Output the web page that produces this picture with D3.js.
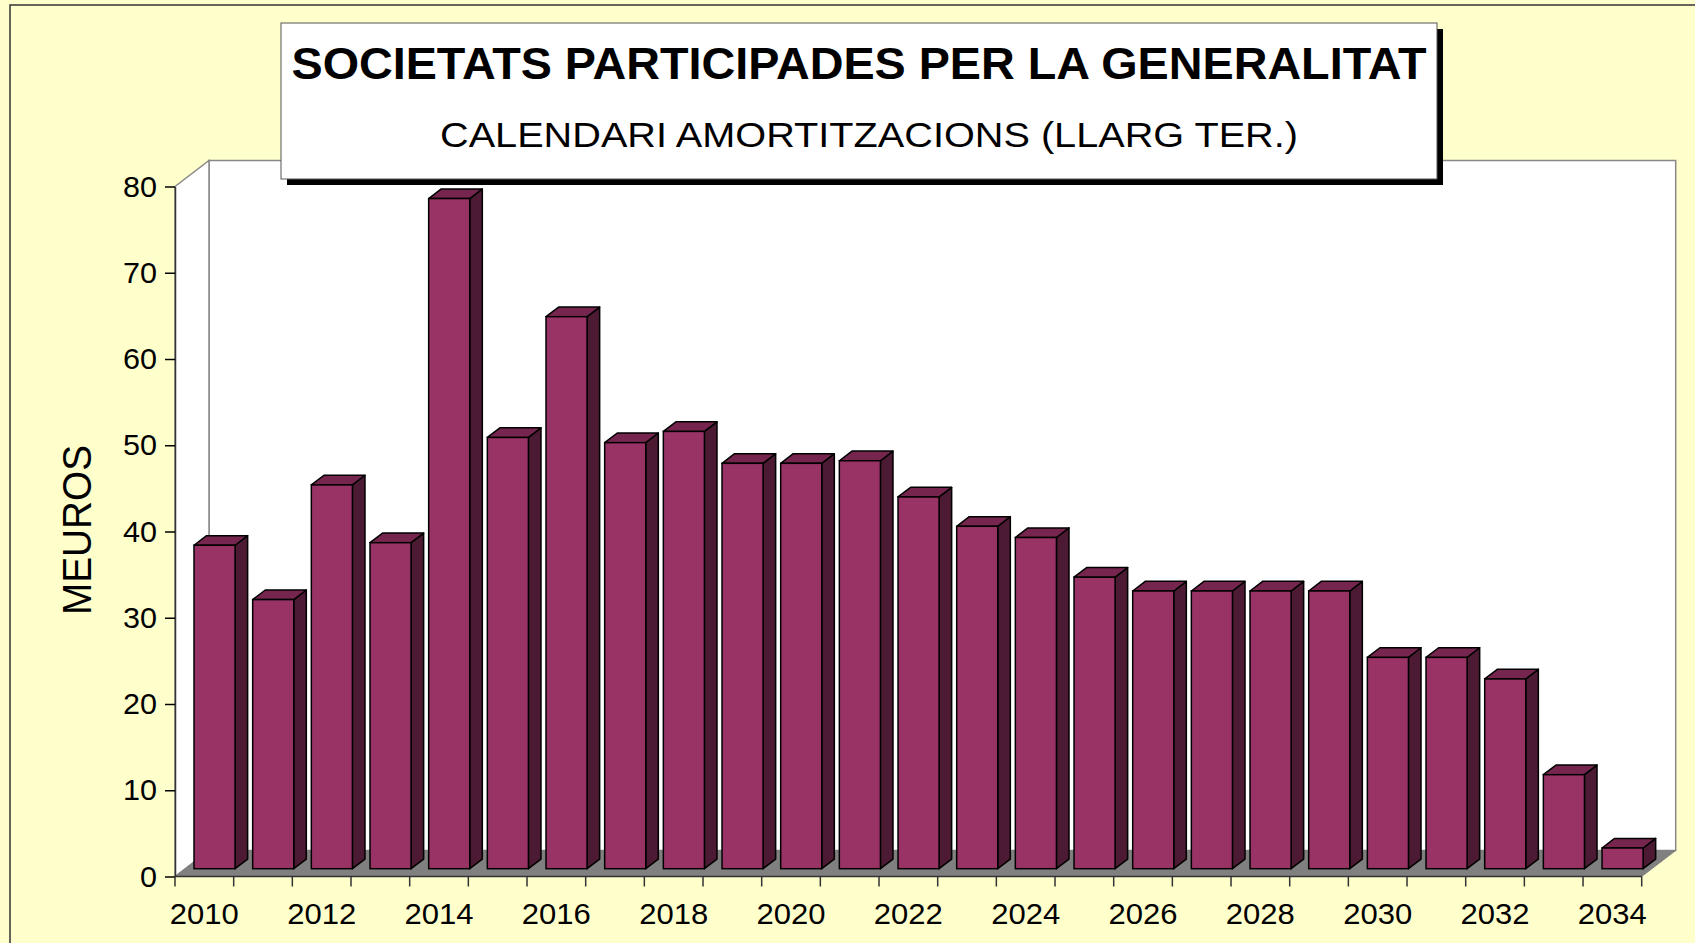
<!DOCTYPE html>
<meta charset="utf-8">
<script src="https://cdn.jsdelivr.net/npm/d3@7/dist/d3.min.js"></script>
<style>
body { margin: 0; background: #ffffcc; }
text { font-family: Arial, "Liberation Sans", sans-serif; fill: #000; }
</style>
<body>
<script>

// data (MEUROS)
var years = [2010, 2011, 2012, 2013, 2014, 2015, 2016, 2017, 2018, 2019, 2020, 2021,
             2022, 2023, 2024, 2025, 2026, 2027, 2028, 2029, 2030, 2031, 2032, 2033, 2034];
var values = [37.5, 31.2, 44.5, 37.8, 77.7, 50.0, 64.0, 49.4, 50.7, 47.0, 47.0, 47.3,
              43.1, 39.7, 38.4, 33.8, 32.2, 32.2, 32.2, 32.2, 24.5, 24.5, 22.0, 10.9, 2.4];
var yTicks = [0, 10, 20, 30, 40, 50, 60, 70, 80];
var title = "SOCIETATS PARTICIPADES PER LA GENERALITAT";
var subtitle = "CALENDARI AMORTITZACIONS (LLARG TER.)";
var yLabel = "MEUROS";

var width = 1695, height = 943;

// plot frame (front plane) and depth of the 3d box
var plotLeft = 175, plotRight = 1641.7, plotTop = 186.5, plotBase = 876.5;
var depthX = 34, depthY = 26;
var f1 = 0.3, f2 = 0.67;   // bar front / back as fraction of the depth

var svg = d3.select("body").append("svg")
    .attr("width", width)
    .attr("height", height);

svg.append("rect")
    .attr("width", width).attr("height", height)
    .attr("fill", "#ffffcc");

// outer chart border
svg.append("rect")
    .attr("x", 10).attr("y", 5)
    .attr("width", width).attr("height", height)
    .attr("fill", "none")
    .attr("stroke", "#333")
    .attr("stroke-width", 1.5);

var x = d3.scaleBand().domain(years).range([plotLeft, plotRight]).paddingInner(0).paddingOuter(0);
var y = d3.scaleLinear().domain([0, 80]).range([plotBase, plotTop]);

// walls
svg.append("rect")
    .attr("x", plotLeft + depthX).attr("y", plotTop - depthY)
    .attr("width", plotRight - plotLeft).attr("height", plotBase - plotTop)
    .attr("fill", "#fff")
    .attr("stroke", "#888")
    .attr("stroke-width", 1.5);

svg.append("polygon")
    .attr("points", [[plotLeft, plotTop], [plotLeft + depthX, plotTop - depthY],
                     [plotLeft + depthX, plotBase - depthY], [plotLeft, plotBase]].join(" "))
    .attr("fill", "#fff")
    .attr("stroke", "#888")
    .attr("stroke-width", 1.5);

// floor
svg.append("polygon")
    .attr("points", [[plotLeft, plotBase], [plotRight, plotBase],
                     [plotRight + depthX, plotBase - depthY], [plotLeft + depthX, plotBase - depthY]].join(" "))
    .attr("fill", "#808080")
    .attr("stroke", "#808080");

// axes
var yAxis = svg.append("g")
    .attr("transform", "translate(" + plotLeft + ",0)")
    .call(d3.axisLeft(y).tickValues(yTicks).tickSize(10).tickPadding(8).tickSizeOuter(0));
yAxis.select(".domain").attr("stroke", "#333").attr("stroke-width", 1.5);
yAxis.selectAll(".tick line").attr("stroke", "#000").attr("stroke-width", 1.5);
yAxis.selectAll("text").style("font-size", "30px").attr("fill", "#000")
    .attr("textLength", function(d) { return d < 10 ? 17 : 34; })
    .attr("lengthAdjust", "spacingAndGlyphs");

var xAxis = svg.append("g")
    .attr("transform", "translate(0," + plotBase + ")")
    .call(d3.axisBottom(x).tickValues(years.filter(function(d, i) { return i % 2 == 0; }))
        .tickSize(0).tickPadding(27).tickSizeOuter(0));
xAxis.select(".domain").remove();
xAxis.selectAll("text").style("font-size", "29px").attr("fill", "#000")
    .attr("textLength", 69)
    .attr("lengthAdjust", "spacingAndGlyphs");

svg.append("line")
    .attr("x1", plotLeft).attr("x2", plotRight)
    .attr("y1", plotBase).attr("y2", plotBase)
    .attr("stroke", "#333").attr("stroke-width", 1.5);

// category ticks sit on the band edges
var edges = years.map(function(d) { return x(d); }).concat([plotRight]);
svg.append("g").selectAll("line")
    .data(edges)
    .enter().append("line")
    .attr("x1", function(d) { return d; }).attr("x2", function(d) { return d; })
    .attr("y1", plotBase).attr("y2", plotBase + 10)
    .attr("stroke", "#333").attr("stroke-width", 1.5);

// bars
var bw = x.bandwidth() * 0.7;
var sx = f1 * depthX, sy = -f1 * depthY;
var bx = f2 * depthX, by = -f2 * depthY;

var bars = svg.append("g").selectAll("g")
    .data(years.map(function(d, i) { return {year: d, value: values[i]}; }))
    .enter().append("g");

function xl(d) { return x(d.year) + (x.bandwidth() - bw) / 2; }

bars.append("polygon")   // side
    .attr("points", function(d) {
        var r = xl(d) + bw, t = y(d.value), b = y(0);
        return [[r + sx, t + sy], [r + bx, t + by], [r + bx, b + by], [r + sx, b + sy]].join(" ");
    })
    .attr("fill", "#4c1a33")
    .attr("stroke", "#000").attr("stroke-width", 1.5).attr("stroke-linejoin", "round");

bars.append("polygon")   // top
    .attr("points", function(d) {
        var l = xl(d), r = l + bw, t = y(d.value);
        return [[l + sx, t + sy], [r + sx, t + sy], [r + bx, t + by], [l + bx, t + by]].join(" ");
    })
    .attr("fill", "#76264e")
    .attr("stroke", "#000").attr("stroke-width", 1.5).attr("stroke-linejoin", "round");

bars.append("rect")      // front
    .attr("x", function(d) { return xl(d) + sx; })
    .attr("y", function(d) { return y(d.value) + sy; })
    .attr("width", bw)
    .attr("height", function(d) { return y(0) - y(d.value); })
    .attr("fill", "#993366")
    .attr("stroke", "#000").attr("stroke-width", 1.5);

// y axis title
svg.append("text")
    .attr("transform", "translate(91,530) rotate(-90)")
    .attr("text-anchor", "middle")
    .style("font-size", "41px")
    .attr("textLength", 170)
    .attr("lengthAdjust", "spacingAndGlyphs")
    .text(yLabel);

// title box with drop shadow
svg.append("rect")
    .attr("x", 287).attr("y", 29)
    .attr("width", 1156).attr("height", 156)
    .attr("fill", "#000");
svg.append("rect")
    .attr("x", 281).attr("y", 23)
    .attr("width", 1156).attr("height", 156)
    .attr("fill", "#fff")
    .attr("stroke", "#555").attr("stroke-width", 1);

svg.append("text")
    .attr("x", 859).attr("y", 79)
    .attr("text-anchor", "middle")
    .style("font-size", "45px")
    .style("font-weight", "bold")
    .attr("textLength", 1135)
    .attr("lengthAdjust", "spacingAndGlyphs")
    .text(title);

svg.append("text")
    .attr("x", 869).attr("y", 147)
    .attr("text-anchor", "middle")
    .style("font-size", "35px")
    .attr("textLength", 858)
    .attr("lengthAdjust", "spacingAndGlyphs")
    .text(subtitle);

</script>
</body>
